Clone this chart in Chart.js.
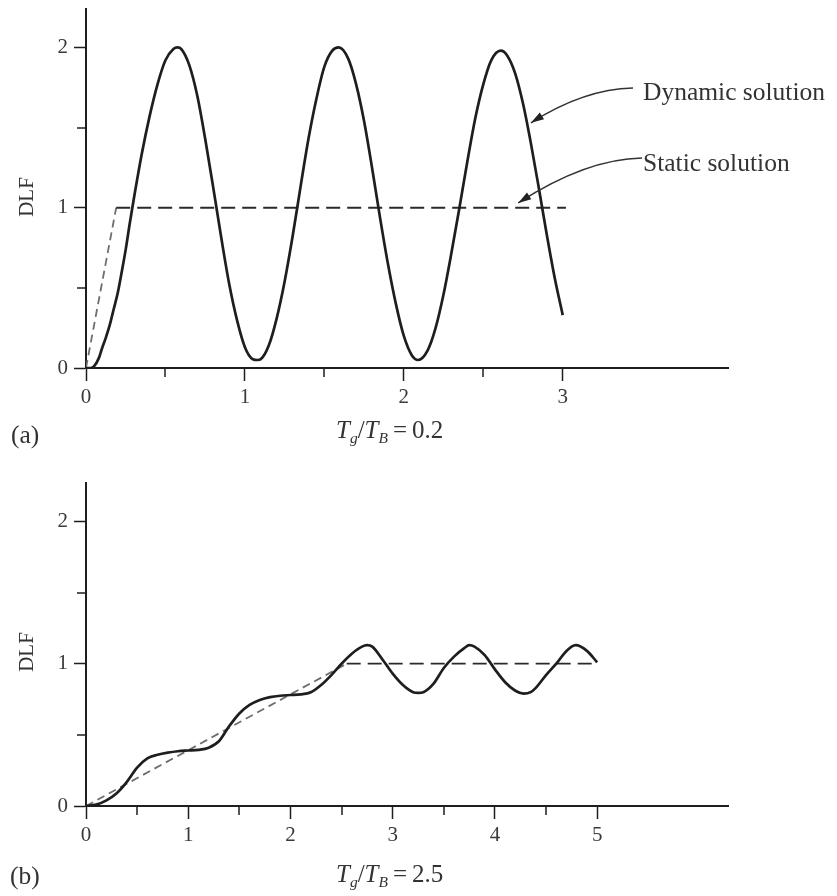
<!DOCTYPE html>
<html>
<head>
<meta charset="utf-8">
<script src="https://cdn.jsdelivr.net/npm/chart.js@4.4.1/dist/chart.umd.min.js"></script>
<style>
    body { margin: 0; background: #fff; }
    #fig { position: relative; width: 837px; height: 896px; overflow: hidden; font-family: "Liberation Serif", "DejaVu Serif", serif; color: #333; }
    .panel { position: absolute; left: 0; width: 837px; }
    .txt { position: absolute; white-space: nowrap; line-height: 1; font-size: 25.5px; }
    .dlf { position: absolute; font-size: 21px; line-height: 1; transform: translate(-50%, -50%) rotate(-90deg); color: #333; }
    .cap { font-size: 25px; }
    .cap i { font-style: italic; }
    .cap sub { font-size: 0.62em; vertical-align: -0.32em; line-height: 0; font-style: italic; }
</style>
</head>
<body>
<div id="fig">
    <div class="panel" style="top:-20px;height:460px"><canvas id="chartA"></canvas></div>
    <div class="panel" style="top:440px;height:456px"><canvas id="chartB"></canvas></div>

    <div class="dlf" style="left:26px;top:197px">DLF</div>
    <div class="dlf" style="left:26px;top:652px">DLF</div>

    <div class="txt" style="left:643px;top:79px">Dynamic solution</div>
    <div class="txt" style="left:643px;top:150px">Static solution</div>

    <div class="txt" style="left:11px;top:422px">(a)</div>
    <div class="txt cap" style="left:336px;top:417px"><i>T</i><sub>g</sub>/<i>T</i><sub>B</sub>&thinsp;=&thinsp;0.2</div>
    <div class="txt" style="left:10px;top:863px">(b)</div>
    <div class="txt cap" style="left:336px;top:861px"><i>T</i><sub>g</sub>/<i>T</i><sub>B</sub>&thinsp;=&thinsp;2.5</div>
</div>
<script>
// (a) Tg/TB = 0.2
var timeA = [0, 0.03, 0.05, 0.08, 0.10, 0.125, 0.15, 0.175, 0.20, 0.225, 0.25, 0.275, 0.30, 0.35, 0.40, 0.45, 0.50, 0.55, 0.575, 0.60,
    0.65, 0.70, 0.75, 0.80, 0.85, 0.90, 0.95, 1.00, 1.05, 1.08, 1.10, 1.15, 1.20, 1.25, 1.30, 1.35, 1.40, 1.45, 1.50, 1.55, 1.59,
    1.65, 1.70, 1.75, 1.80, 1.85, 1.90, 1.95, 2.00, 2.05, 2.09, 2.15, 2.20, 2.25, 2.30, 2.35, 2.40, 2.45, 2.50, 2.55, 2.61,
    2.65, 2.70, 2.75, 2.80, 2.85, 2.90, 2.95, 3.00];
var dynamicA = [0, 0, 0.01, 0.06, 0.12, 0.19, 0.27, 0.37, 0.47, 0.60, 0.74, 0.90, 1.05, 1.33, 1.57, 1.77, 1.92, 1.99, 2.0, 1.99,
    1.89, 1.70, 1.43, 1.13, 0.82, 0.53, 0.30, 0.13, 0.055, 0.05, 0.055, 0.14, 0.31, 0.54, 0.82, 1.13, 1.43, 1.68, 1.88, 1.98, 2.0,
    1.93, 1.77, 1.54, 1.25, 0.94, 0.65, 0.40, 0.20, 0.08, 0.05, 0.11, 0.25, 0.46, 0.72, 1.0, 1.29, 1.56, 1.77, 1.92, 1.98,
    1.95, 1.84, 1.65, 1.40, 1.12, 0.83, 0.56, 0.33];
var staticTimeA = [0, 0.19, 3.02];
var staticA = [0, 1, 1];
var xTicksA = [0, 0.5, 1, 1.5, 2, 2.5, 3];

// (b) Tg/TB = 2.5
var timeB = [0, 0.1, 0.2, 0.3, 0.4, 0.5, 0.6, 0.7, 0.8, 0.9, 1.0, 1.1, 1.2, 1.3, 1.4, 1.5, 1.6, 1.7, 1.8, 1.9, 2.0, 2.1, 2.2,
    2.3, 2.4, 2.5, 2.6, 2.7, 2.75, 2.8, 2.9, 3.0, 3.1, 3.2, 3.25, 3.3, 3.4, 3.5, 3.6, 3.7, 3.75, 3.8, 3.9, 4.0, 4.1, 4.2,
    4.28, 4.35, 4.4, 4.5, 4.6, 4.7, 4.79, 4.9, 5.0];
var dynamicB = [0, 0.01, 0.04, 0.09, 0.17, 0.27, 0.335, 0.36, 0.375, 0.385, 0.39, 0.395, 0.41, 0.455, 0.56, 0.65, 0.71, 0.745,
    0.765, 0.775, 0.78, 0.785, 0.80, 0.85, 0.92, 1.0, 1.07, 1.12, 1.13, 1.12, 1.03, 0.93, 0.85, 0.80, 0.795, 0.80, 0.86,
    0.97, 1.05, 1.11, 1.13, 1.12, 1.06, 0.96, 0.87, 0.81, 0.79, 0.80, 0.83, 0.92, 1.0, 1.09, 1.13, 1.09, 1.01];
var staticTimeB = [0, 2.55, 5.0];
var staticB = [0, 1, 1];
var xTicksB = [0, 0.5, 1, 1.5, 2, 2.5, 3, 3.5, 4, 4.5, 5];

var yTicks = [0, 0.5, 1, 1.5, 2];

var axisColor = '#1e1e1e';
var labelColor = '#3a3a3a';
var panelTopA = -20;

function toPoints(xs, ys) {
    return xs.map(function (x, i) { return { x: x, y: ys[i] }; });
}

var minorTicks = {
    id: 'minorTicks',
    afterDraw: function (chart) {
        var ctx = chart.ctx, xs = chart.scales.x, ys = chart.scales.y;
        ctx.save();
        ctx.strokeStyle = axisColor;
        ctx.lineWidth = 1.5;
        ctx.beginPath();
        xs.ticks.forEach(function (t) {
            if (t.value % 1 !== 0) {
                var px = Math.round(xs.getPixelForValue(t.value));
                ctx.moveTo(px, xs.top);
                ctx.lineTo(px, xs.top + 9);
            }
        });
        ys.ticks.forEach(function (t) {
            if (t.value % 1 !== 0) {
                var py = Math.round(ys.getPixelForValue(t.value));
                ctx.moveTo(ys.right, py);
                ctx.lineTo(ys.right - 9, py);
            }
        });
        ctx.stroke();
        ctx.restore();
    }
};

function drawArrow(ctx, x0, y0, cx, cy, x1, y1) {
    ctx.beginPath();
    ctx.moveTo(x0, y0);
    ctx.quadraticCurveTo(cx, cy, x1, y1);
    ctx.stroke();
    var ang = Math.atan2(y1 - cy, x1 - cx);
    var len = 13, half = 4;
    ctx.beginPath();
    ctx.moveTo(x1, y1);
    ctx.lineTo(x1 - len * Math.cos(ang) + half * Math.sin(ang), y1 - len * Math.sin(ang) - half * Math.cos(ang));
    ctx.lineTo(x1 - len * Math.cos(ang) - half * Math.sin(ang), y1 - len * Math.sin(ang) + half * Math.cos(ang));
    ctx.closePath();
    ctx.fill();
}

// curved arrows from the two labels to the curves of panel (a)
var arrows = {
    id: 'arrows',
    afterDraw: function (chart) {
        var ctx = chart.ctx, xs = chart.scales.x, ys = chart.scales.y;
        var off = -panelTopA;
        ctx.save();
        ctx.strokeStyle = '#333';
        ctx.fillStyle = '#222';
        ctx.lineWidth = 1.4;
        var dx = xs.getPixelForValue(2.80), dy = ys.getPixelForValue(1.53);
        drawArrow(ctx, 633, 88 + off, 584, 89 + off, dx, dy);
        var sx = xs.getPixelForValue(2.72), sy = ys.getPixelForValue(1.03);
        drawArrow(ctx, 642, 158 + off, 586, 159 + off, sx, sy);
        ctx.restore();
    }
};

function makeOptions(xMax, yMax, xTicks, padTop, xHeight) {
    var tickColor = function (c) {
        return c.tick && c.tick.value % 1 === 0 ? axisColor : 'rgba(0,0,0,0)';
    };
    var labelCb = function (value) {
        return value % 1 === 0 ? String(value) : '';
    };
    return {
        responsive: true,
        maintainAspectRatio: false,
        animation: false,
        layout: { padding: { top: padTop, right: 837 - 728, left: 0, bottom: 0 } },
        plugins: { legend: { display: false }, tooltip: { enabled: false } },
        elements: { point: { radius: 0 } },
        scales: {
            x: {
                type: 'linear',
                min: 0,
                max: xMax,
                afterBuildTicks: function (scale) {
                    scale.ticks = xTicks.map(function (v) { return { value: v }; });
                },
                afterFit: function (scale) { scale.height = xHeight; },
                grid: { drawOnChartArea: false, drawTicks: true, tickLength: 13, tickWidth: 1.5, tickColor: tickColor },
                border: { display: true, color: axisColor, width: 2 },
                ticks: {
                    autoSkip: false, maxRotation: 0, padding: 4, color: labelColor, callback: labelCb,
                    font: { family: '"Liberation Serif", serif', size: 21 }
                }
            },
            y: {
                type: 'linear',
                min: 0,
                max: yMax,
                afterBuildTicks: function (scale) {
                    scale.ticks = yTicks.map(function (v) { return { value: v }; });
                },
                afterFit: function (scale) { scale.width = 86; },
                grid: { drawOnChartArea: false, drawTicks: true, tickLength: 12, tickWidth: 1.5, tickColor: tickColor },
                border: { display: true, color: axisColor, width: 2 },
                ticks: {
                    autoSkip: false, padding: 6, color: labelColor, callback: labelCb,
                    font: { family: '"Liberation Serif", serif', size: 21 }
                }
            }
        }
    };
}

function makeData(t, dyn, st, sv) {
    return {
        datasets: [
            {
                label: 'Dynamic solution',
                data: toPoints(t, dyn),
                borderColor: axisColor,
                borderWidth: 2.7,
                cubicInterpolationMode: 'monotone',
                fill: false
            },
            {
                label: 'Static solution',
                data: toPoints(st, sv),
                borderColor: '#2a2a2a',
                borderWidth: 1.8,
                borderDash: [14, 7],
                tension: 0,
                fill: false,
                segment: {
                    borderDash: function (c) { return c.p0DataIndex === 0 ? [8, 5] : [14, 7]; },
                    borderColor: function (c) { return c.p0DataIndex === 0 ? '#6e6e6e' : '#2a2a2a'; }
                }
            }
        ]
    };
}

new Chart(document.getElementById('chartA'), {
    type: 'line',
    data: makeData(timeA, dynamicA, staticTimeA, staticA),
    options: makeOptions(4.04, 2.24, xTicksA, 9 - panelTopA, 460 - (368 - panelTopA)),
    plugins: [minorTicks, arrows]
});

new Chart(document.getElementById('chartB'), {
    type: 'line',
    data: makeData(timeB, dynamicB, staticTimeB, staticB),
    options: makeOptions(6.28, 2.27, xTicksB, 43, 90),
    plugins: [minorTicks]
});
</script>
</body>
</html>
